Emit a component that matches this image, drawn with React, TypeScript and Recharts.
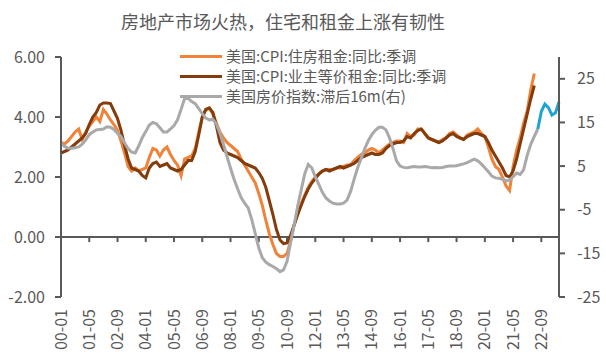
import React from "react";
import { LineChart, Line, XAxis, YAxis, ReferenceLine } from "recharts";

// bimonthly categories, 2000-01 .. 2023-07
const months: string[] = [];
for (let i = 0; i < 142; i++) {
  const m = i * 2;
  const yy = 2000 + Math.floor(m / 12);
  const mm = (m % 12) + 1;
  months.push(`${String(yy % 100).padStart(2, "0")}-${String(mm).padStart(2, "0")}`);
}

// 美国:CPI:住房租金:同比:季调 (left axis, %)
const rent = [
  3.15, 3.1, 3.2, 3.35, 3.5, 3.6,
  3.25, 3.5, 3.7, 3.85, 4.0, 3.85,
  4.25, 4.1, 3.9, 3.75, 3.55, 3.2,
  2.8, 2.35, 2.2, 2.3, 2.2, 2.25,
  2.3, 2.65, 2.95, 2.9, 2.7, 2.9,
  3.0, 2.75, 2.55, 2.4, 2.05, 2.6,
  2.65, 2.7, 2.95, 3.5, 4.0, 4.25,
  4.3, 4.1, 3.8, 3.5, 3.3, 3.15,
  3.05, 2.95, 2.85, 2.6, 2.4, 2.2,
  2.0, 1.8, 1.45, 1.05, 0.55, 0.1,
  -0.25, -0.55, -0.65, -0.65, -0.55, -0.15,
  0.4, 0.75, 1.1, 1.4, 1.65, 1.85,
  2.0, 2.1, 2.2, 2.25, 2.25, 2.25,
  2.3, 2.3, 2.35, 2.4, 2.4, 2.55,
  2.65, 2.75, 2.8, 2.9, 2.95, 2.9,
  2.8, 2.9, 3.0, 3.1, 3.15, 3.2,
  3.2, 3.15, 3.45, 3.35, 3.4, 3.6,
  3.6, 3.45, 3.3, 3.25, 3.2, 3.15,
  3.25, 3.3, 3.45, 3.5, 3.4, 3.3,
  3.25, 3.4, 3.45, 3.5, 3.6, 3.45,
  3.35, 3.0, 2.6, 2.35, 2.25, 2.0,
  1.7, 1.55, 2.35, 2.9, 3.3, 3.8,
  4.2, 4.9, 5.45,
];

// 美国:CPI:业主等价租金:同比:季调 (left axis, %)
const oer = [
  2.8, 2.85, 2.9, 3.0, 3.1, 3.2,
  3.3, 3.45, 3.75, 4.0, 4.15, 4.4,
  4.47, 4.47, 4.45, 4.2, 3.95, 3.55,
  3.05, 2.6, 2.3, 2.25, 2.2, 2.05,
  1.97, 2.3, 2.45, 2.5, 2.35, 2.4,
  2.45, 2.3, 2.25, 2.2, 2.25, 2.4,
  2.55, 2.55, 2.85, 3.4, 4.0, 4.25,
  4.3, 4.15, 3.7, 3.15, 2.9, 2.8,
  2.75, 2.7, 2.65, 2.55, 2.45, 2.4,
  2.35, 2.3, 2.15, 1.95, 1.65, 1.2,
  0.75, 0.25, -0.1, -0.22, -0.2, 0.05,
  0.4, 0.75, 1.05, 1.35, 1.6, 1.8,
  1.95, 2.1, 2.2, 2.25, 2.2, 2.25,
  2.3, 2.35, 2.3, 2.35, 2.4, 2.45,
  2.55, 2.65, 2.7, 2.75, 2.8, 2.75,
  2.75, 2.8, 2.95, 3.05, 3.1, 3.15,
  3.15, 3.2, 3.35, 3.3, 3.45, 3.55,
  3.6, 3.45, 3.3, 3.25, 3.2, 3.15,
  3.2, 3.3, 3.4, 3.45, 3.35, 3.3,
  3.25, 3.35, 3.4, 3.45, 3.45, 3.4,
  3.35, 3.15, 2.9, 2.7, 2.5, 2.3,
  2.05, 2.0, 2.2, 2.6, 3.1, 3.6,
  4.1, 4.6, 5.05,
];

// 美国房价指数:滞后16m (right axis, %)
const hpiLag = [
  10.3, 9.5, 9.1, 9.1, 9.2, 9.4,
  10.0, 11.0, 12.2, 12.8, 13.3, 13.4,
  13.5, 14.0, 13.9, 13.4, 12.5, 11.8,
  10.3, 9.0, 8.2, 8.0, 9.6, 11.5,
  12.9, 14.4, 15.0, 14.7, 13.8, 12.8,
  12.8, 13.5, 14.3, 15.6, 18.0, 20.5,
  20.5, 19.8, 19.3, 18.2, 17.0, 16.0,
  15.6, 15.7, 14.6, 12.5, 10.0, 7.2,
  4.5, 2.0, -0.2, -2.2, -3.5, -4.6,
  -7.2, -10.5, -13.8, -16.0, -17.0, -17.6,
  -18.0, -18.5, -19.2, -18.8, -16.8, -12.5,
  -8.5, -4.2, -0.5, 3.2, 5.4, 4.6,
  2.5, 0.8, -1.0, -2.3, -3.0, -3.5,
  -3.7, -3.7, -3.5, -2.8, -0.8, 2.0,
  4.6, 6.8, 9.0, 10.8, 12.2, 13.2,
  13.9, 13.9, 13.3, 11.5, 9.0, 6.2,
  5.0, 4.7, 4.6, 4.8, 4.9, 4.8,
  4.8, 4.9, 4.8, 4.6, 4.7, 4.6,
  4.7, 4.9, 5.0, 5.0, 5.1, 5.3,
  5.5, 5.8, 6.2, 6.6, 6.2, 5.5,
  4.6, 3.7, 2.7, 2.3, 2.2, 2.0,
  1.6, 1.8, 2.6, 3.4, 3.1, 4.2,
  7.5, 10.0, 11.8, 13.5,
];

// tail of the lagged index, drawn in blue (2022-07 .. 2023-07)
const hpiLagTail = [13.5, 17.5, 19.2, 18.4, 16.7, 17.2, 19.7];
const tailStart = hpiLag.length - 1;

const leftTicks = [-2, 0, 2, 4, 6];
const rightTicks = [-25, -15, -5, 5, 15, 25];

const data = months.map((month, i) => ({
  month,
  rent: i < rent.length ? rent[i] : null,
  oer: i < oer.length ? oer[i] : null,
  hpi: i < hpiLag.length ? hpiLag[i] : null,
  hpiTail: i >= tailStart ? hpiLagTail[i - tailStart] : null,
}));

const tickMonths = months.filter((_, i) => i % 8 === 0 && i > 0);

const FONT = "'Noto Sans CJK SC', 'Noto Sans', sans-serif";
const AXIS = "#595959";
const ORANGE = "#F0833A";
const BROWN = "#843C0C";
const GRAY = "#A9A9A9";
const BLUE = "#1FA3D6";

const legendItems = [
  { label: "美国:CPI:住房租金:同比:季调", color: ORANGE },
  { label: "美国:CPI:业主等价租金:同比:季调", color: BROWN },
  { label: "美国房价指数:滞后16m(右)", color: GRAY },
];

function MonthTick(props: any) {
  const { x, y, payload } = props;
  return (
    <text
      transform={`translate(${x},${y + 12}) rotate(-90)`}
      textAnchor="end"
      dy="0.35em"
      fill={AXIS}
      fontSize={16}
      fontFamily={FONT}
    >
      {payload.value}
    </text>
  );
}

export default function App() {
  return (
    <div
      style={{
        position: "absolute",
        left: 0,
        top: 0,
        width: 606,
        height: 358,
        background: "#fff",
        fontFamily: FONT,
      }}
    >
      <div
        style={{
          position: "absolute",
          left: 0,
          width: 566,
          top: 8,
          textAlign: "center",
          fontSize: 18,
          color: AXIS,
          lineHeight: "26px",
        }}
      >
        房地产市场火热，住宅和租金上涨有韧性
      </div>
      <LineChart
        width={606}
        height={358}
        data={data}
        margin={{ top: 57, right: 0, left: 0, bottom: 0 }}
      >
        <XAxis
          dataKey="month"
          interval={7}
          axisLine={false}
          tickLine={false}
          tickSize={0}
          tickMargin={0}
          height={61}
          tick={<MonthTick />}
        />
        <YAxis
          yAxisId="left"
          domain={[-2, 6]}
          ticks={leftTicks}
          tickFormatter={(v: number) => v.toFixed(2)}
          width={61}
          axisLine={{ stroke: AXIS, strokeWidth: 2 }}
          tickLine={{ stroke: AXIS, strokeWidth: 2 }}
          tickSize={6}
          tickMargin={10}
          tick={{ fill: AXIS, fontSize: 16, fontFamily: FONT }}
        />
        <YAxis
          yAxisId="right"
          orientation="right"
          domain={[-25, 30]}
          ticks={rightTicks}
          width={47}
          axisLine={{ stroke: AXIS, strokeWidth: 2 }}
          tickLine={{ stroke: AXIS, strokeWidth: 2 }}
          tickSize={6}
          tickMargin={12}
          tick={{ fill: AXIS, fontSize: 16, fontFamily: FONT }}
        />
        <ReferenceLine yAxisId="left" y={0} stroke={AXIS} strokeWidth={2} />
        {tickMonths.map((m) => (
          <ReferenceLine
            key={m}
            yAxisId="left"
            segment={[
              { x: m, y: 0 },
              { x: m, y: -0.17 },
            ]}
            stroke={AXIS}
            strokeWidth={2}
          />
        ))}
        <Line
          yAxisId="left"
          dataKey="rent"
          stroke={ORANGE}
          strokeWidth={3}
          dot={false}
          isAnimationActive={false}
        />
        <Line
          yAxisId="left"
          dataKey="oer"
          stroke={BROWN}
          strokeWidth={3}
          dot={false}
          isAnimationActive={false}
        />
        <Line
          yAxisId="right"
          dataKey="hpi"
          stroke={GRAY}
          strokeWidth={3}
          dot={false}
          isAnimationActive={false}
        />
        <Line
          yAxisId="right"
          dataKey="hpiTail"
          stroke={BLUE}
          strokeWidth={3}
          dot={false}
          isAnimationActive={false}
        />
      </LineChart>
      <div style={{ position: "absolute", left: 180, top: 46 }}>
        {legendItems.map((item) => (
          <div
            key={item.label}
            style={{
              display: "flex",
              alignItems: "center",
              height: 20,
              lineHeight: "18px",
              fontSize: 15,
              color: AXIS,
              whiteSpace: "nowrap",
            }}
          >
            <span
              style={{
                display: "inline-block",
                width: 42,
                height: 3,
                background: item.color,
                marginRight: 4,
              }}
            />
            {item.label}
          </div>
        ))}
      </div>
    </div>
  );
}
